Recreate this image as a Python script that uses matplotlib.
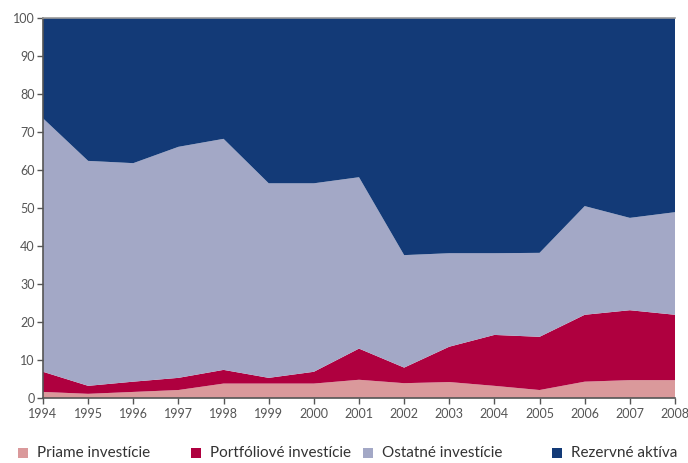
import numpy as np
import matplotlib.pyplot as plt
from matplotlib.patches import Rectangle

plt.rcParams['font.family'] = ['Lato', 'DejaVu Sans']

years = list(range(1994, 2009))
# shares in percent
priame = [1.6, 1.1, 1.6, 2.1, 3.8, 3.8, 3.8, 4.8, 3.9, 4.2, 3.2, 2.1, 4.3, 4.7, 4.7]
portfolio_top = [6.9, 3.2, 4.3, 5.3, 7.4, 5.3, 6.9, 13.0, 8.0, 13.5, 16.6, 16.1, 21.9, 23.1, 21.9]
ostatne_top = [73.6, 62.4, 61.8, 66.1, 68.2, 56.5, 56.5, 58.1, 37.6, 38.1, 38.1, 38.2, 50.5, 47.4, 48.9]

portfolio = np.array(portfolio_top) - np.array(priame)
ostatne = np.array(ostatne_top) - np.array(portfolio_top)
rezervne = 100 - np.array(ostatne_top)

labels = ["Priame investície", "Portfóliové investície", "Ostatné investície", "Rezervné aktíva"]
colors = ["#DA999B", "#AF003F", "#A3A8C6", "#133A77"]

W, H = 688, 463
fig = plt.figure(figsize=(W / 100, H / 100), dpi=100)
ax = fig.add_axes([43 / W, 65 / H, 632 / W, 380 / H])

ax.stackplot(years, priame, portfolio, ostatne, rezervne, colors=colors, linewidth=0)

ax.set_xlim(1994, 2008)
ax.set_ylim(0, 100)
ax.set_xticks(years)
ax.set_yticks(range(0, 101, 10))

for s in ["left", "bottom"]:
    ax.spines[s].set_color("#555555")
    ax.spines[s].set_linewidth(1.2)
ax.spines["top"].set_color("#999999")
ax.spines["top"].set_linewidth(1.2)
ax.spines["right"].set_visible(False)

ax.tick_params(axis="both", colors="#555555", labelsize=9, length=4, width=1)
ax.tick_params(axis="x", labelcolor="#555555", pad=3)
ax.tick_params(axis="y", labelcolor="#555555", pad=2)

# legend placed by hand along the bottom
marker_x = [23, 196, 368, 557]
for mx, lab, c in zip(marker_x, labels, colors):
    fig.patches.append(Rectangle(((mx - 5) / W, (H - 458) / H), 10 / W, 10 / H,
                                 transform=fig.transFigure, facecolor=c, edgecolor="none"))
    fig.text((mx + 14) / W, (H - 453) / H, lab, fontsize=11, color="#333333",
             va="center", ha="left")

plt.savefig("out.png", dpi=100)
